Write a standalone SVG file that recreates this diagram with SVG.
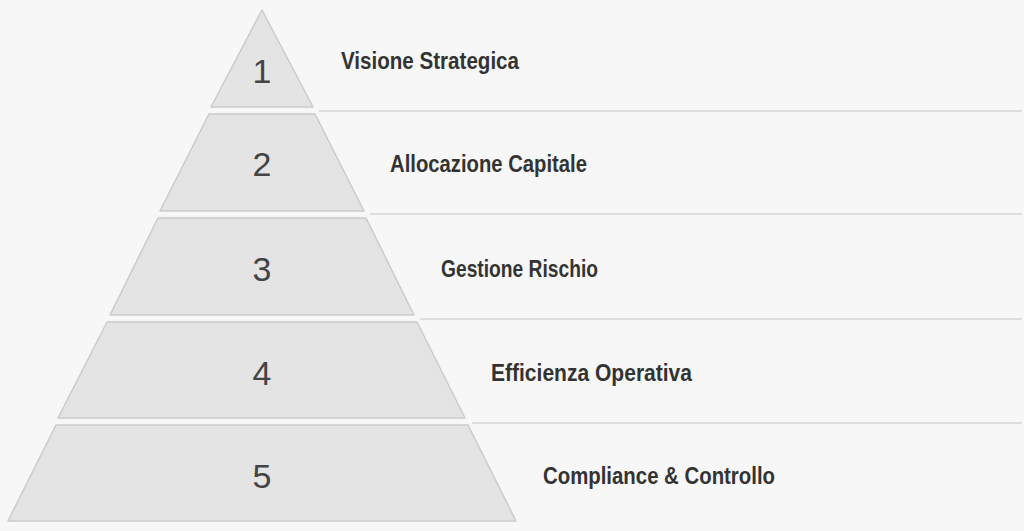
<svg xmlns="http://www.w3.org/2000/svg" width="1024" height="531" viewBox="0 0 1024 531">
<style>
.layer{fill:#e4e4e4;stroke:#cbcbcb;stroke-width:1.5;stroke-linejoin:round}
.num{font-family:"Liberation Sans","DejaVu Sans",sans-serif;font-size:34px;fill:#444;text-anchor:middle}
.lbl{font-family:"Liberation Sans","DejaVu Sans",sans-serif;font-size:24px;font-weight:bold;fill:#333}
.sep{stroke:#d6d6d6;stroke-width:1.5;fill:none}
</style>
<rect width="1024" height="531" fill="#f7f7f7"/>
<g id="connectors">
<line class="sep" x1="319" y1="111" x2="1022" y2="111"/>
<line class="sep" x1="370" y1="214" x2="1022" y2="214"/>
<line class="sep" x1="420" y1="319" x2="1022" y2="319"/>
<line class="sep" x1="472" y1="423" x2="1022" y2="423"/>
</g>
<g id="layer1">
<polygon class="layer" points="262,10 313,107 211,107"/>
<text class="num" x="262" y="83">1</text>
<text class="lbl" x="341" y="69" textLength="178" lengthAdjust="spacingAndGlyphs">Visione Strategica</text>
</g>
<g id="layer2">
<polygon class="layer" points="209,114 315,114 364,211 160,211"/>
<text class="num" x="262" y="176">2</text>
<text class="lbl" x="390" y="172" textLength="197" lengthAdjust="spacingAndGlyphs">Allocazione Capitale</text>
</g>
<g id="layer3">
<polygon class="layer" points="158,218 366,218 414,315 110,315"/>
<text class="num" x="262" y="281">3</text>
<text class="lbl" x="441" y="277" textLength="157" lengthAdjust="spacingAndGlyphs">Gestione Rischio</text>
</g>
<g id="layer4">
<polygon class="layer" points="107,322 417,322 465,418 58,418"/>
<text class="num" x="262" y="385">4</text>
<text class="lbl" x="491" y="381" textLength="201" lengthAdjust="spacingAndGlyphs">Efficienza Operativa</text>
</g>
<g id="layer5">
<polygon class="layer" points="56,425 468,425 516,521 8,521"/>
<text class="num" x="262" y="488">5</text>
<text class="lbl" x="543" y="484" textLength="232" lengthAdjust="spacingAndGlyphs">Compliance &amp; Controllo</text>
</g>
</svg>
